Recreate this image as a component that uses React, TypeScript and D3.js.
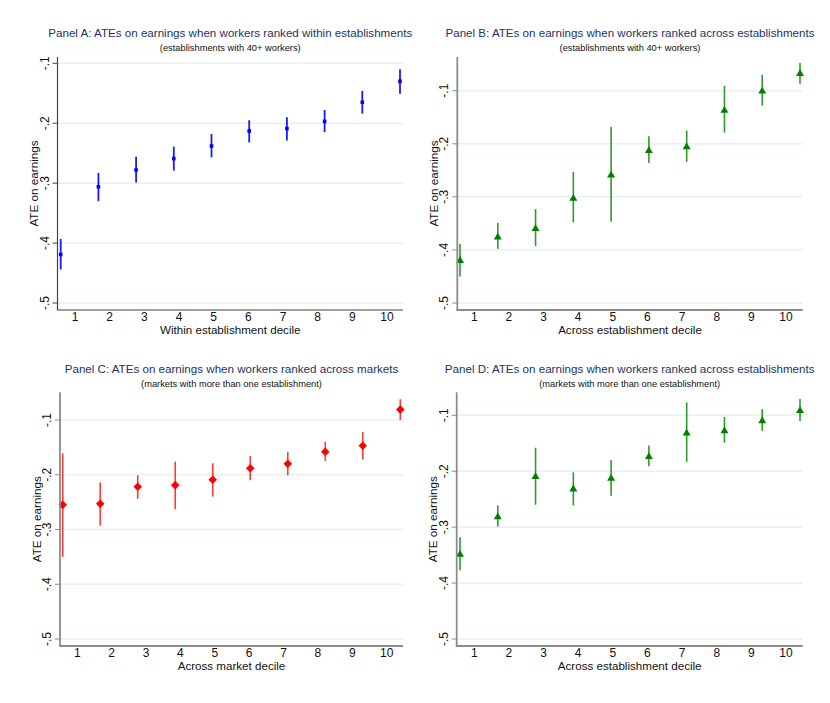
import React from "react";
import * as d3 from "d3";

const deciles = [1, 2, 3, 4, 5, 6, 7, 8, 9, 10];
const xTickLabels = ["1", "2", "3", "4", "5", "6", "7", "8", "9", "10"];
const yTicks = [-0.1, -0.2, -0.3, -0.4, -0.5];
const yTickLabels = ["-.1", "-.2", "-.3", "-.4", "-.5"];

// Panel A
const aEst = [-0.419, -0.306, -0.278, -0.259, -0.238, -0.213, -0.209, -0.197, -0.165, -0.130];
const aLo = [-0.444, -0.330, -0.299, -0.279, -0.257, -0.232, -0.229, -0.215, -0.184, -0.151];
const aHi = [-0.393, -0.283, -0.256, -0.239, -0.218, -0.195, -0.190, -0.178, -0.146, -0.110];
// Panel B
const bEst = [-0.418, -0.374, -0.358, -0.301, -0.257, -0.211, -0.204, -0.135, -0.099, -0.066];
const bLo = [-0.450, -0.398, -0.393, -0.348, -0.347, -0.236, -0.234, -0.179, -0.128, -0.087];
const bHi = [-0.389, -0.349, -0.323, -0.253, -0.168, -0.186, -0.175, -0.091, -0.070, -0.048];
// Panel C
const cEst = [-0.255, -0.253, -0.222, -0.219, -0.209, -0.188, -0.180, -0.158, -0.147, -0.081];
const cLo = [-0.350, -0.293, -0.244, -0.263, -0.240, -0.210, -0.201, -0.175, -0.172, -0.100];
const cHi = [-0.161, -0.214, -0.201, -0.176, -0.179, -0.166, -0.158, -0.140, -0.122, -0.062];
// Panel D
const dEst = [-0.347, -0.280, -0.208, -0.230, -0.211, -0.172, -0.130, -0.126, -0.108, -0.090];
const dLo = [-0.377, -0.299, -0.260, -0.261, -0.244, -0.191, -0.183, -0.149, -0.128, -0.110];
const dHi = [-0.318, -0.261, -0.158, -0.202, -0.180, -0.154, -0.077, -0.103, -0.089, -0.071];

const FONT = "Arial, 'Liberation Sans', Helvetica, sans-serif";
const TITLE_COLOR = "#1c3263";

type PanelProps = {
  title: string;
  subtitle: string;
  xTitle: string;
  est: number[];
  lo: number[];
  hi: number[];
  left: number;
  right: number;
  top: number;
  bottom: number;
  yTickTop: number;
  yTickBottom: number;
  ptLeft: number;
  ptRight: number;
  lblLeft: number;
  lblRight: number;
  titleY: number;
  subY: number;
  xLabelY: number;
  xTitleY: number;
  marker: "square" | "triangle" | "diamond";
  markerColor: string;
  lineColor: string;
  lineWidth: number;
  axisColor: string;
  axisWidth: number;
};

function Panel(p: PanelProps) {
  const y = d3.scaleLinear().domain([-0.5, -0.1]).range([p.yTickBottom, p.yTickTop]);
  const x = d3.scaleLinear().domain([1, 10]).range([p.ptLeft, p.ptRight]);
  const xl = d3.scaleLinear().domain([1, 10]).range([p.lblLeft, p.lblRight]);
  const cx = (p.left + p.right) / 2;
  const cy = (p.top + p.bottom) / 2;

  const markerPath = (mx: number, my: number) => {
    if (p.marker === "triangle") {
      const w = 4, h = 3.4;
      return `M${mx},${my - h}L${mx + w},${my + h}L${mx - w},${my + h}Z`;
    }
    if (p.marker === "diamond") {
      const r = 4.3;
      return `M${mx},${my - r}L${mx + r},${my}L${mx},${my + r}L${mx - r},${my}Z`;
    }
    const s = 1.8;
    return `M${mx - s},${my - s}h${2 * s}v${2 * s}h${-2 * s}Z`;
  };

  return (
    <g fontFamily={FONT}>
      <text x={cx} y={p.titleY} textAnchor="middle" fontSize={11.6} fill={TITLE_COLOR}>
        {p.title}
      </text>
      <text x={cx} y={p.subY} textAnchor="middle" fontSize={9.3} fill="#111">
        {p.subtitle}
      </text>
      {yTicks.map((t) => (
        <line key={"g" + t} x1={p.left} x2={p.right} y1={y(t)} y2={y(t)} stroke="#e8f0f1" strokeWidth={1.5} />
      ))}
      {deciles.map((d, i) => (
        <line
          key={"ci" + d}
          x1={x(d)}
          x2={x(d)}
          y1={y(p.lo[i])}
          y2={y(p.hi[i])}
          stroke={p.lineColor}
          strokeWidth={p.lineWidth}
        />
      ))}
      {deciles.map((d, i) => (
        <path key={"m" + d} d={markerPath(x(d), y(p.est[i]))} fill={p.markerColor} />
      ))}
      <line x1={p.left} x2={p.left} y1={p.top} y2={p.bottom} stroke={p.axisColor} strokeWidth={p.axisWidth} />
      <line x1={p.left - p.axisWidth / 2} x2={p.right} y1={p.bottom} y2={p.bottom} stroke={p.axisColor} strokeWidth={p.axisWidth} />
      {yTicks.map((t, i) => (
        <g key={"yt" + t}>
          <line x1={p.left - 5} x2={p.left} y1={y(t)} y2={y(t)} stroke={p.axisColor} strokeWidth={1} />
          <text
            transform={`translate(${p.left - 9},${y(t)}) rotate(-90)`}
            textAnchor="middle"
            fontSize={12}
            fill="#111"
          >
            {yTickLabels[i]}
          </text>
        </g>
      ))}
      {deciles.map((d, i) => (
        <text key={"xl" + d} x={xl(d)} y={p.xLabelY} textAnchor="middle" fontSize={12} fill="#111">
          {xTickLabels[i]}
        </text>
      ))}
      <text x={cx} y={p.xTitleY} textAnchor="middle" fontSize={11.6} fill="#111">
        {p.xTitle}
      </text>
      <text
        transform={`translate(${p.left - 19.5},${cy}) rotate(-90)`}
        textAnchor="middle"
        fontSize={11.7}
        fill="#111"
      >
        ATE on earnings
      </text>
    </g>
  );
}

export default function App() {
  const green = "#007f00";
  const greenLine = "#2f9a2f";
  return (
    <svg
      width={830}
      height={703}
      style={{ position: "absolute", left: 0, top: 0, background: "#fff" }}
    >
      <rect width={830} height={703} fill="#fff" />
      <Panel
        title="Panel A: ATEs on earnings when workers ranked within establishments"
        subtitle="(establishments with 40+ workers)"
        xTitle="Within establishment decile"
        est={aEst}
        lo={aLo}
        hi={aHi}
        left={57.5}
        right={403}
        top={57}
        bottom={310}
        yTickTop={63.3}
        yTickBottom={303}
        ptLeft={60.7}
        ptRight={400}
        lblLeft={75}
        lblRight={387}
        titleY={37}
        subY={50.5}
        xLabelY={320.5}
        xTitleY={333.5}
        marker="square"
        markerColor="#0000ff"
        lineColor="#1a1aff"
        lineWidth={1.8}
        axisColor="#444"
        axisWidth={1.2}
      />
      <Panel
        title="Panel B: ATEs on earnings when workers ranked across establishments"
        subtitle="(establishments with 40+ workers)"
        xTitle="Across establishment decile"
        est={bEst}
        lo={bLo}
        hi={bHi}
        left={457.3}
        right={802.7}
        top={57}
        bottom={310}
        yTickTop={90.7}
        yTickBottom={303}
        ptLeft={460}
        ptRight={800}
        lblLeft={474.3}
        lblRight={786}
        titleY={37}
        subY={50.5}
        xLabelY={320.5}
        xTitleY={333.5}
        marker="triangle"
        markerColor={green}
        lineColor={greenLine}
        lineWidth={1.6}
        axisColor="#8c8c8c"
        axisWidth={1.8}
      />
      <Panel
        title="Panel C: ATEs on earnings when workers ranked across markets"
        subtitle="(markets with more than one establishment)"
        xTitle="Across market decile"
        est={cEst}
        lo={cLo}
        hi={cHi}
        left={60}
        right={403}
        top={392.3}
        bottom={646}
        yTickTop={420}
        yTickBottom={639}
        ptLeft={62.7}
        ptRight={400.3}
        lblLeft={77.3}
        lblRight={386.7}
        titleY={372.5}
        subY={386.5}
        xLabelY={657}
        xTitleY={669.5}
        marker="diamond"
        markerColor="#ff0000"
        lineColor="#ff3a3a"
        lineWidth={1.6}
        axisColor="#8c8c8c"
        axisWidth={1.8}
      />
      <Panel
        title="Panel D: ATEs on earnings when workers ranked across establishments"
        subtitle="(markets with more than one establishment)"
        xTitle="Across establishment decile"
        est={dEst}
        lo={dLo}
        hi={dHi}
        left={456.7}
        right={802.7}
        top={392.3}
        bottom={646}
        yTickTop={415.3}
        yTickBottom={639}
        ptLeft={460}
        ptRight={800}
        lblLeft={474.3}
        lblRight={786}
        titleY={372.5}
        subY={386.5}
        xLabelY={657}
        xTitleY={669.5}
        marker="triangle"
        markerColor={green}
        lineColor={greenLine}
        lineWidth={1.6}
        axisColor="#8c8c8c"
        axisWidth={1.8}
      />
    </svg>
  );
}
